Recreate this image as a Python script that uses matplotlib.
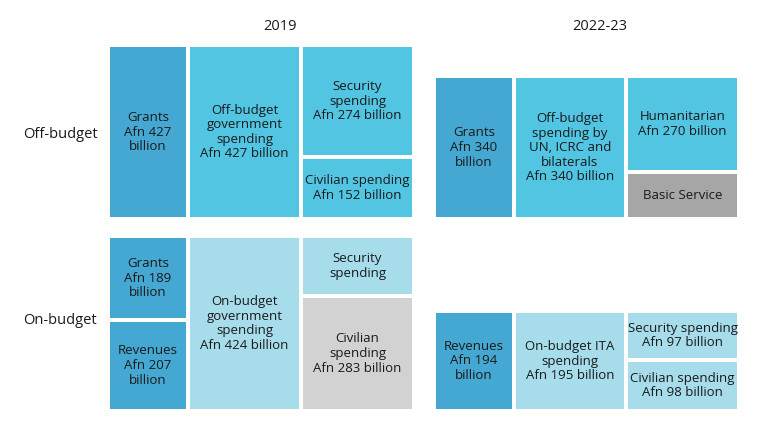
import matplotlib.pyplot as plt
from matplotlib.patches import Rectangle

# ── Data ──────────────────────────────────────────────────────────────────────
PERIODS = ["2019", "2022-23"]
ROWS = ["Off-budget", "On-budget"]

LABELS_2019 = [
    "Grants\nAfn 427\nbillion",
    "Off-budget\ngovernment\nspending\nAfn 427 billion",
    "Security\nspending\nAfn 274 billion",
    "Civilian spending\nAfn 152 billion",
    "Grants\nAfn 189\nbillion",
    "Revenues\nAfn 207\nbillion",
    "On-budget\ngovernment\nspending\nAfn 424 billion",
    "Security\nspending",
    "Civilian\nspending\nAfn 283 billion",
]
LABELS_2022 = [
    "Grants\nAfn 340\nbillion",
    "Off-budget\nspending by\nUN, ICRC and\nbilaterals\nAfn 340 billion",
    "Humanitarian\nAfn 270 billion",
    "Basic Service",
    "Revenues\nAfn 194\nbillion",
    "On-budget ITA\nspending\nAfn 195 billion",
    "Security spending\nAfn 97 billion",
    "Civilian spending\nAfn 98 billion",
]

# ── Layout (pixel boxes: x0, y0, x1, y1) and styles ───────────────────────────
DARK, MID, LIGHT, GREY, LGREY = "#44A8D3", "#52C5E3", "#A7DDEB", "#A6A6A6", "#D2D2D2"
BOX_2019 = [
    (110, 47, 186, 217, DARK), (190, 47, 299, 217, MID),
    (303, 47, 412, 155, MID), (303, 159, 412, 217, MID),
    (110, 238, 186, 318, DARK), (110, 322, 186, 409, DARK),
    (190, 238, 299, 409, LIGHT), (303, 238, 412, 294, LIGHT),
    (303, 298, 412, 409, LGREY),
]
BOX_2022 = [
    (436, 78, 512, 217, DARK), (516, 78, 624, 217, MID),
    (628, 78, 737, 170, MID), (628, 174, 737, 217, GREY),
    (436, 313, 512, 409, DARK), (516, 313, 624, 409, LIGHT),
    (628, 313, 737, 358, LIGHT), (628, 362, 737, 409, LIGHT),
]

plt.rcParams["font.family"] = ["Open Sans", "DejaVu Sans"]
fig = plt.figure(figsize=(7.63, 4.22), dpi=100)
ax = fig.add_axes([0, 0, 1, 1])
ax.set_xlim(0, 763)
ax.set_ylim(422, 0)
ax.axis("off")

for labels, boxes in [(LABELS_2019, BOX_2019), (LABELS_2022, BOX_2022)]:
    for lab, (x0, y0, x1, y1, col) in zip(labels, boxes):
        ax.add_patch(Rectangle((x0, y0), x1 - x0, y1 - y0, facecolor=col, edgecolor="none"))
        ax.text((x0 + x1) / 2, (y0 + y1) / 2, lab, ha="center", va="center",
                fontsize=9.5, color="#1a1a1a", linespacing=1.15)

for name, x in zip(PERIODS, [280, 600]):
    ax.text(x, 27, name, ha="center", va="center", fontsize=10.5, color="#1a1a1a")
for name, y in zip(ROWS, [135, 321]):
    ax.text(60, y, name, ha="center", va="center", fontsize=10.5, color="#1a1a1a")

fig.savefig("out.png", dpi=100)
